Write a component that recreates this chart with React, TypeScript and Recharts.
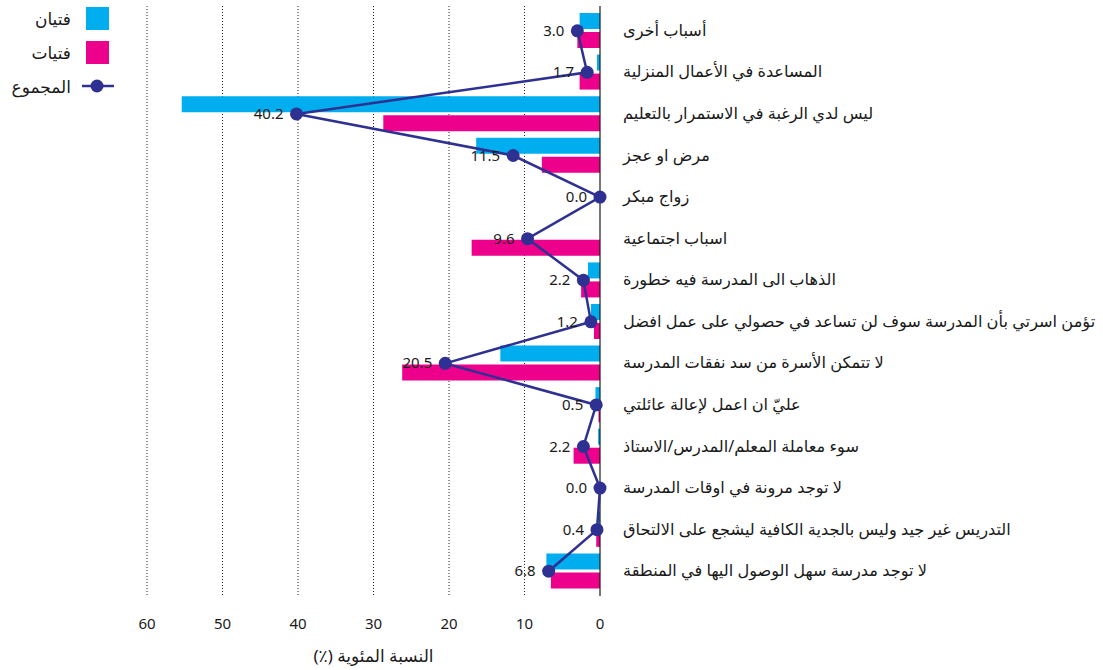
import React from 'react';
import { ComposedChart, Bar, Line, XAxis, YAxis, CartesianGrid, ReferenceLine, LabelList } from 'recharts';

const categories = [
  'أسباب أخرى',
  'المساعدة في الأعمال المنزلية',
  'ليس لدي الرغبة في الاستمرار بالتعليم',
  'مرض او عجز',
  'زواج مبكر',
  'اسباب اجتماعية',
  'الذهاب الى المدرسة فيه خطورة',
  'تؤمن اسرتي بأن المدرسة سوف لن تساعد في حصولي على عمل افضل',
  'لا تتمكن الأسرة من سد نفقات المدرسة',
  'عليّ ان اعمل لإعالة عائلتي',
  'سوء معاملة المعلم/المدرس/الاستاذ',
  'لا توجد مرونة في اوقات المدرسة',
  'التدريس غير جيد وليس بالجدية الكافية ليشجع على الالتحاق',
  'لا توجد مدرسة سهل الوصول اليها في المنطقة',
];
const boys = [2.7, 0.4, 55.4, 16.4, 0, 0, 1.6, 1.2, 13.2, 0.6, 0.25, 0, 0.2, 7.1];
const girls = [3.0, 2.7, 28.7, 7.7, 0, 17.0, 2.5, 0.8, 26.2, 0.2, 3.5, 0, 0.5, 6.5];
const totals = [3.0, 1.7, 40.2, 11.5, 0.0, 9.6, 2.2, 1.2, 20.5, 0.5, 2.2, 0.0, 0.4, 6.8];
const xTicks = [0, 10, 20, 30, 40, 50, 60];

const seriesNames = { boys: 'فتيان', girls: 'فتيات', total: 'المجموع' };
const CYAN = '#00AEEF';
const MAGENTA = '#EC008C';
const NAVY = '#2E3192';
const FONT = '"Noto Sans", "DejaVu Sans", sans-serif';

const data = categories.map((name, i) => ({ name, boys: boys[i], girls: girls[i], total: totals[i] }));

const CategoryTick = ({ x, y, payload }: any) => (
  <text x={x + 21} y={y} dy={5} fontSize={16.2} fill="#1a1a1a" fontFamily={FONT} textAnchor="start">
    {payload.value}
  </text>
);

const NumberTick = ({ x, y, payload }: any) => (
  <text x={x} y={y + 35} fontSize={15} fill="#1a1a1a" fontFamily={FONT} textAnchor="middle">
    {payload.value}
  </text>
);

const TotalLabel = ({ x, y, value }: any) => (
  <text x={x - 13} y={y} dy={5} fontSize={15} fill="#1a1a1a" fontFamily={FONT} textAnchor="end">
    {Number(value).toFixed(1)}
  </text>
);

const ZeroLine = ({ x1, x2 }: any) => <line x1={x1} x2={x2} y1={6} y2={596} stroke="#1a1a1a" strokeWidth={1.2} />;

const legendItems = [
  { label: seriesNames.boys, kind: 'box', color: CYAN },
  { label: seriesNames.girls, kind: 'box', color: MAGENTA },
  { label: seriesNames.total, kind: 'line', color: NAVY },
];

const LegendBox = () => (
  <div style={{ position: 'absolute', left: 0, top: 1, fontFamily: FONT, fontSize: 17, color: '#1a1a1a' }}>
    {legendItems.map((item) => (
      <div key={item.label} style={{ display: 'flex', alignItems: 'center', height: 34 }}>
        <div style={{ width: 71, textAlign: 'right' }}>{item.label}</div>
        <div style={{ width: 15 }} />
        {item.kind === 'box' ? (
          <div style={{ width: 23, height: 23, background: item.color }} />
        ) : (
          <svg width={32} height={16} style={{ marginLeft: -4 }}>
            <line x1={0} x2={32} y1={8} y2={8} stroke={item.color} strokeWidth={2.5} />
            <circle cx={15} cy={8} r={6.5} fill={item.color} />
          </svg>
        )}
      </div>
    ))}
  </div>
);

export default function App() {
  return (
    <div style={{ position: 'absolute', left: 0, top: 0, width: 1103, height: 670, background: '#fff' }}>
      <ComposedChart
        width={1103}
        height={670}
        data={data}
        layout="vertical"
        margin={{ top: 10, right: 0, bottom: 0, left: 147 }}
        barGap={3}
      >
        <CartesianGrid
          vertical
          horizontal={false}
          y={6}
          height={590}
          stroke="#222"
          strokeDasharray="1 2"
          verticalValues={[10, 20, 30, 40, 50, 60]}
        />
        <XAxis
          type="number"
          reversed
          domain={[0, 60]}
          ticks={xTicks}
          axisLine={false}
          tickLine={false}
          tickSize={0}
          tick={<NumberTick />}
          height={78}
          interval={0}
        />
        <YAxis
          type="category"
          dataKey="name"
          orientation="right"
          width={503}
          axisLine={false}
          tickLine={false}
          tickSize={0}
          tick={<CategoryTick />}
          interval={0}
        />
        <ReferenceLine x={0} shape={<ZeroLine />} />
        <Bar dataKey="boys" name={seriesNames.boys} fill={CYAN} barSize={16} isAnimationActive={false} />
        <Bar dataKey="girls" name={seriesNames.girls} fill={MAGENTA} barSize={16} isAnimationActive={false} />
        <Line
          dataKey="total"
          name={seriesNames.total}
          stroke={NAVY}
          strokeWidth={2.5}
          dot={{ r: 6.5, fill: NAVY, stroke: NAVY, strokeWidth: 0 }}
          isAnimationActive={false}
        >
          <LabelList dataKey="total" content={<TotalLabel />} />
        </Line>
      </ComposedChart>
      <LegendBox />
      <div
        style={{
          position: 'absolute',
          left: 147,
          width: 453,
          top: 644,
          textAlign: 'center',
          direction: 'rtl',
          fontFamily: FONT,
          fontSize: 17,
          color: '#1a1a1a',
        }}
      >
        النسبة المئوية (٪)
      </div>
    </div>
  );
}
